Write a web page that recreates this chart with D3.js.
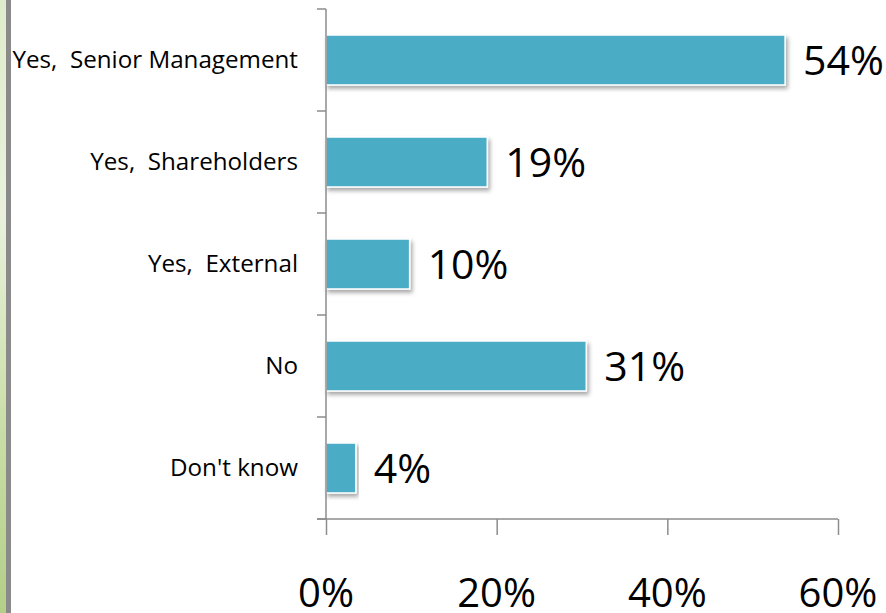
<!DOCTYPE html>
<html><head><meta charset="utf-8">
<script src="https://cdn.jsdelivr.net/npm/d3@7"></script>
<style>html,body{margin:0;padding:0;background:#fff;overflow:hidden}</style>
</head><body>
<script>
const categories = ["Yes,  Senior Management","Yes,  Shareholders","Yes,  External","No","Don't know"];
const values = [53.8, 18.9, 9.8, 30.5, 3.5];
const valueLabels = ["54%","19%","10%","31%","4%"];
const xTicks = [0, 20, 40, 60];

const W = 886, H = 613;
const svg = d3.select("body").append("svg").attr("width", W).attr("height", H);
const defs = svg.append("defs");
const g1 = defs.append("linearGradient").attr("id","strip").attr("x1",0).attr("y1",0).attr("x2",0).attr("y2",1);
g1.append("stop").attr("offset","0%").attr("stop-color","#dfeccb");
g1.append("stop").attr("offset","35%").attr("stop-color","#e9f1dc");
g1.append("stop").attr("offset","70%").attr("stop-color","#c9dea7");
g1.append("stop").attr("offset","100%").attr("stop-color","#b3cf88");
const f = defs.append("filter").attr("id","shadow").attr("x","-5%").attr("y","-20%").attr("width","115%").attr("height","150%");
f.append("feDropShadow").attr("dx",2).attr("dy",3).attr("stdDeviation",2).attr("flood-color","#000").attr("flood-opacity",0.35);

svg.append("rect").attr("x",0).attr("y",0).attr("width",6).attr("height",H).attr("fill","url(#strip)");
svg.append("rect").attr("x",6).attr("y",0).attr("width",5).attr("height",H).attr("fill","#8a8a8a");

const x = d3.scaleLinear().domain([0,60]).range([326,838]);
const y = d3.scaleBand().domain(categories).range([9,519]).paddingInner(0.51).paddingOuter(0.255);
const step = y.step();

const axisColor = "#8c8c8c";
const font = "'Open Sans', sans-serif";

// bars
svg.append("g").selectAll("rect").data(categories).join("rect")
  .attr("x", x(0))
  .attr("y", d => y(d))
  .attr("width", (d,i) => x(values[i]) - x(0))
  .attr("height", y.bandwidth())
  .attr("fill", "#4bacc6")
  .attr("stroke", "#ffffff")
  .attr("stroke-width", 1.5)
  .attr("filter", "url(#shadow)");

// x axis
const xAxis = d3.axisBottom(x).tickValues(xTicks).tickSize(16).tickFormat("");
const gx = svg.append("g").attr("transform", `translate(0,${519})`).call(xAxis);
gx.select(".domain").attr("stroke", axisColor).attr("stroke-width",1.5).attr("d", `M${x(0)-9},0H${x(60)}`);
gx.selectAll(".tick line").attr("stroke", axisColor).attr("stroke-width",1.5);

svg.append("g").selectAll("text").data(xTicks).join("text")
  .attr("x", d => x(d)).attr("y", 607)
  .attr("text-anchor","middle")
  .attr("font-family", font).attr("font-size", 40).attr("fill","#000")
  .text(d => d + "%");

// y axis
const bounds = categories.map(c => y(c) - step*0.255).concat([519]);
const gy = svg.append("g");
gy.append("line").attr("x1", x(0)).attr("x2", x(0)).attr("y1", 9).attr("y2", 519)
  .attr("stroke", axisColor).attr("stroke-width",1.5);
gy.selectAll("line.tk").data(bounds).join("line").attr("class","tk")
  .attr("x1", x(0)-9).attr("x2", x(0)).attr("y1", d=>d).attr("y2", d=>d)
  .attr("stroke", axisColor).attr("stroke-width",1.5);

svg.append("g").selectAll("text").data(categories).join("text")
  .attr("x", 298).attr("y", d => y(d) + y.bandwidth()/2 + 8)
  .attr("text-anchor","end")
  .style("white-space","pre")
  .attr("xml:space","preserve")
  .attr("font-family", font).attr("font-size", 24.2).attr("fill","#000")
  .text(d => d);

// value labels
svg.append("g").selectAll("text").data(categories).join("text")
  .attr("x", (d,i) => x(values[i]) + 18)
  .attr("y", d => y(d) + y.bandwidth()/2 + 15)
  .attr("font-family", font).attr("font-size", 41).attr("fill","#000")
  .text((d,i) => valueLabels[i]);
</script>
</body></html>
